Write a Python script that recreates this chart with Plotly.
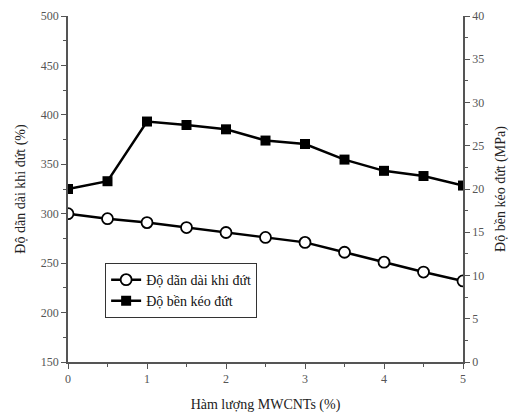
import plotly.graph_objects as go

# MWCNT content (%)
mwcnt = [0, 0.5, 1, 1.5, 2, 2.5, 3, 3.5, 4, 4.5, 5]
# Elongation at break (%)
elongation = [300, 295, 291, 286, 281, 276, 271, 261, 251, 241, 232]
# Tensile strength (MPa)
tensile = [20.0, 20.9, 27.8, 27.4, 26.9, 25.6, 25.2, 23.4, 22.1, 21.5, 20.4]

serif = "Times New Roman, Liberation Serif, DejaVu Serif, serif"
axis_col = "#555555"

fig = go.Figure()
fig.add_trace(go.Scatter(
    x=mwcnt, y=elongation, name="Độ dãn dài khi đứt", mode="lines+markers",
    line=dict(color="black", width=2.5),
    marker=dict(symbol="circle", size=11, color="white",
                line=dict(color="black", width=1.8)),
))
fig.add_trace(go.Scatter(
    x=mwcnt, y=tensile, name="Độ bền kéo đứt", mode="lines+markers", yaxis="y2",
    line=dict(color="black", width=2.5),
    marker=dict(symbol="square", size=10, color="black"),
))

tick_font = dict(family=serif, size=12, color="#555555")
title_font = dict(family=serif, size=14, color="#222222")
minor = dict(ticks="outside", ticklen=3, tickcolor=axis_col)

fig.update_layout(
    width=510, height=417,
    margin=dict(l=68, r=47, t=16, b=55),
    paper_bgcolor="white", plot_bgcolor="white",
    font=dict(family=serif),
    showlegend=True,
    legend=dict(x=0.094, y=0.286, xanchor="left", yanchor="top",
                bgcolor="white", bordercolor="#333333", borderwidth=1,
                font=dict(family=serif, size=14, color="#111111"),
                tracegroupgap=2),
    xaxis=dict(range=[0, 5], dtick=1, showgrid=False, zeroline=False,
               showline=True, linecolor=axis_col, linewidth=1.5,
               ticks="outside", ticklen=5, tickcolor=axis_col, automargin=False,
               minor=dict(dtick=0.5, **minor), tickfont=tick_font,
               title=dict(text="Hàm lượng MWCNTs (%)", font=title_font, standoff=14)),
    yaxis=dict(range=[150, 500], dtick=50, showgrid=False, zeroline=False,
               showline=True, linecolor=axis_col, linewidth=1.5,
               ticks="outside", ticklen=5, tickcolor=axis_col, automargin=False,
               minor=dict(dtick=25, **minor), tickfont=tick_font,
               title=dict(text="Độ dãn dài khi đứt (%)", font=title_font, standoff=12)),
    yaxis2=dict(range=[0, 40], dtick=5, overlaying="y", side="right",
                showgrid=False, zeroline=False, automargin=False,
                showline=True, linecolor=axis_col, linewidth=1.5,
                ticks="outside", ticklen=5, tickcolor=axis_col,
                minor=dict(dtick=2.5, **minor), tickfont=tick_font,
                title=dict(text="Độ bền kéo đứt (MPa)", font=title_font, standoff=12)),
)

fig.write_html("out.html")
